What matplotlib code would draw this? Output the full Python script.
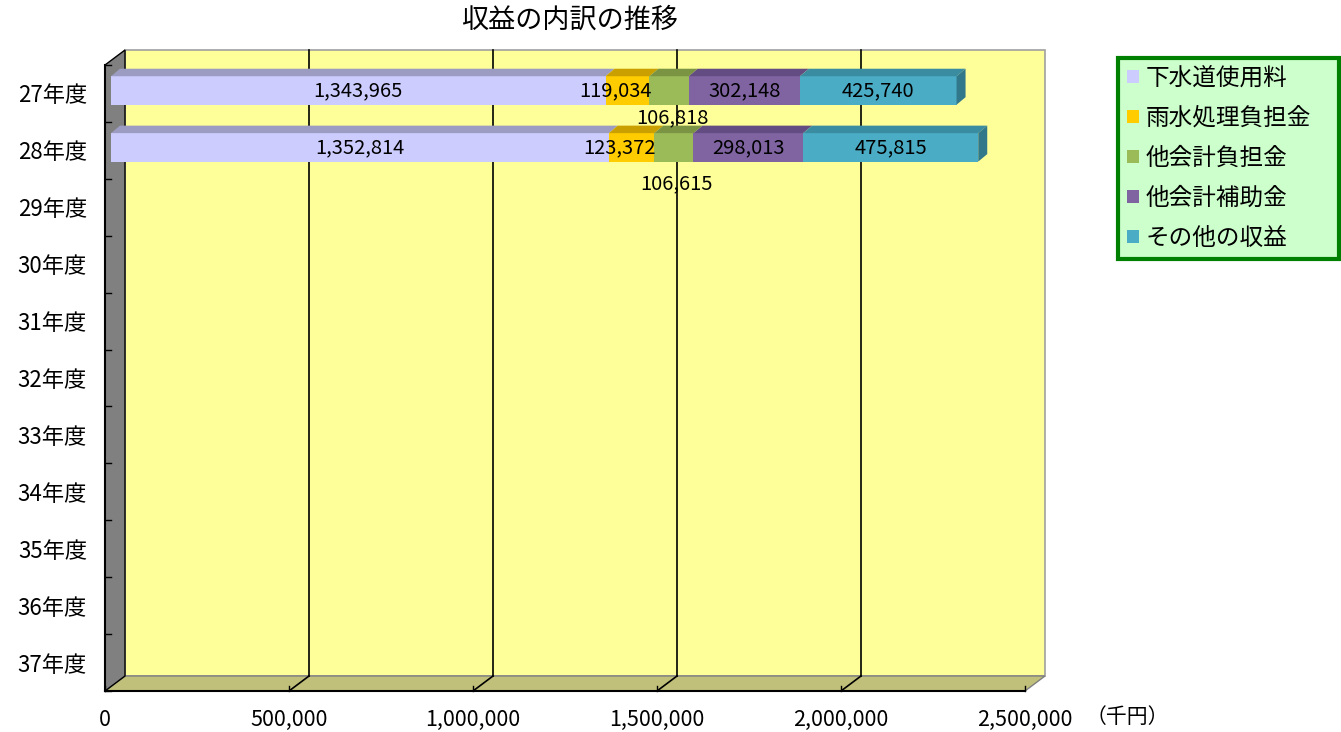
import matplotlib
matplotlib.use('Agg')
import matplotlib.pyplot as plt
from matplotlib.patches import Polygon, Patch
from matplotlib.transforms import IdentityTransform
from matplotlib.lines import Line2D

plt.rcParams['font.family'] = ['Noto Sans CJK JP', 'DejaVu Sans']

# data (千円)
years = ['27年度', '28年度', '29年度', '30年度', '31年度', '32年度',
         '33年度', '34年度', '35年度', '36年度', '37年度']
series_names = ['下水道使用料', '雨水処理負担金', '他会計負担金', '他会計補助金', 'その他の収益']
sewer = [1343965, 1352814]
rain = [119034, 123372]
other_burden = [106818, 106615]
other_subsidy = [302148, 298013]
other_income = [425740, 475815]
xticks = [0, 500000, 1000000, 1500000, 2000000, 2500000]

colors = ['#CCCCFF', '#FFCC00', '#9BBB59', '#8064A2', '#4BACC6']
tops = ['#9C9CC2', '#C9A000', '#7A9444', '#634C82', '#3A8CA0']
sides = ['#8080A8', '#A88400', '#657A38', '#4F3C69', '#31788A']

fig = plt.figure(figsize=(13.41, 7.32), dpi=100)
W, H = 1341, 732
ax = fig.add_axes([105 / W, (H - 691) / H, 920 / W, 626 / H])
ax.set_xlim(0, 2500000)
ax.set_ylim(len(years) - 0.5, -0.5)
ax.patch.set_visible(False)
for s in ax.spines.values():
    s.set_visible(False)

ident = IdentityTransform()
WALL = (20, 15)     # depth of the chart box, pixels
BF = (6, 3)         # bar front face
BB = (15, 10.5)     # bar back face


def P(x, y, off=(0, 0)):
    px, py = ax.transData.transform((x, y))
    return (px + off[0], py + off[1])


def poly(pts, fc, ec='none', lw=0.8, z=1):
    ax.add_patch(Polygon(pts, closed=True, facecolor=fc, edgecolor=ec, lw=lw,
                         transform=ident, clip_on=False, zorder=z))


def line(p0, p1, c='black', lw=1.2, z=2):
    ax.add_line(Line2D([p0[0], p1[0]], [p0[1], p1[1]], color=c, lw=lw,
                       transform=ident, clip_on=False, zorder=z))


x0, x1 = xticks[0], xticks[-1]
yt, yb = -0.5, len(years) - 0.5

# back wall
poly([P(x0, yt, WALL), P(x1, yt, WALL), P(x1, yb, WALL), P(x0, yb, WALL)],
     '#FFFF99', '#A0A0A0', 1.2, 0)
# floor
poly([P(x0, yb), P(x1, yb), P(x1, yb, WALL), P(x0, yb, WALL)], '#C0C07A', '#808080', 1.0, 1)
# left wall
poly([P(x0, yt), P(x0, yt, WALL), P(x0, yb, WALL), P(x0, yb)], '#808080', 'black', 1.0, 1)
line(P(x1, yb), P(x0, yb), 'black', 1.5)
line(P(x0, yt), P(x0, yb), 'black', 1.5)

# gridlines on back wall and floor
for t in xticks[1:-1]:
    line(P(t, yt, WALL), P(t, yb, WALL))
    line(P(t, yb, WALL), P(t, yb))
for t in xticks:
    a = P(t, yb)
    line(a, (a[0], a[1] + 5), 'black', 1.0)
for k in range(len(years) + 1):
    a = P(x0, k - 0.5)
    line(a, (a[0] + 6, a[1]), 'black', 1.0)

# stacked 3D bars
data = [sewer, rain, other_burden, other_subsidy, other_income]
hh = 0.25
lfs = 14.5
for i in range(len(sewer)):
    left = 0
    for j, vals in enumerate(data):
        v = vals[i]
        a, b = left, left + v
        poly([P(a, i - hh, BF), P(b, i - hh, BF), P(b, i + hh, BF), P(a, i + hh, BF)], colors[j], z=3)
        poly([P(a, i - hh, BF), P(b, i - hh, BF), P(b, i - hh, BB), P(a, i - hh, BB)], tops[j], z=3)
        if j == len(data) - 1:
            poly([P(b, i - hh, BF), P(b, i - hh, BB), P(b, i + hh, BB), P(b, i + hh, BF)], sides[j], z=3)
        lab = f'{v:,}'
        if j == 1:
            px, py = P(b, i, BF)
            ax.text(px + 2, py, lab, ha='right', va='center', fontsize=lfs, transform=ident, zorder=5)
        elif j == 2:
            px, py = P((a + b) / 2, i, BF)
            ax.text(px + 3, py - (27 if i == 0 else 36), lab, ha='center', va='center',
                    fontsize=lfs, transform=ident, zorder=5)
        else:
            px, py = P((a + b) / 2, i, BF)
            ax.text(px, py, lab, ha='center', va='center', fontsize=lfs, transform=ident, zorder=5)
        left = b

ax.set_yticks(range(len(years)))
ax.set_yticklabels(years, fontsize=16)
ax.set_xticks(xticks)
ax.set_xticklabels([f'{t:,}' for t in xticks], fontsize=15.5)
ax.tick_params(axis='y', length=0, pad=13)
ax.tick_params(axis='x', length=0, pad=13)

fig.text(1127 / W, 1 - 717 / H, '（千円）', ha='center', va='center', fontsize=15)
fig.text(570 / W, 1 - 20 / H, '収益の内訳の推移', ha='center', va='center', fontsize=19.5)

handles = [Patch(facecolor=c, edgecolor='none') for c in colors]
leg = fig.legend(handles, series_names, loc='upper left',
                 bbox_to_anchor=(1118 / W, 1 - 58 / H, 221 / W, 0), mode='expand',
                 fontsize=17, handlelength=0.5, handleheight=0.5, handletextpad=0.3,
                 labelspacing=0.72, borderpad=0.38, fancybox=False, borderaxespad=0)
leg.get_frame().set_edgecolor('#008000')
leg.get_frame().set_linewidth(3)
leg.get_frame().set_facecolor('#CCFFCC')
leg.get_frame().set_alpha(1)

fig.savefig('out.png', dpi=100)
